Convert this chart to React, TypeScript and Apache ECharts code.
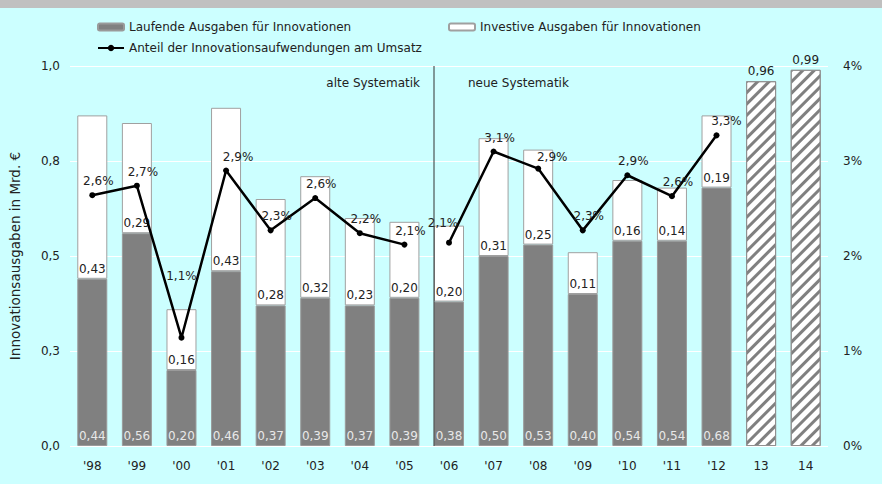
import React, { useEffect, useRef } from "react";
import * as echarts from "echarts";

const categories = ["'98", "'99", "'00", "'01", "'02", "'03", "'04", "'05", "'06", "'07", "'08", "'09", "'10", "'11", "'12", "13", "14"];
const laufende = [0.44, 0.56, 0.2, 0.46, 0.37, 0.39, 0.37, 0.39, 0.38, 0.5, 0.53, 0.4, 0.54, 0.54, 0.68, null, null];
const investiv = [0.43, 0.29, 0.16, 0.43, 0.28, 0.32, 0.23, 0.2, 0.2, 0.31, 0.25, 0.11, 0.16, 0.14, 0.19, null, null];
const prognose = [null, null, null, null, null, null, null, null, null, null, null, null, null, null, null, 0.96, 0.99];
const anteilAlt = [2.64, 2.74, 1.14, 2.9, 2.27, 2.61, 2.24, 2.12, null, null, null, null, null, null, null, null, null];
const anteilNeu = [null, null, null, null, null, null, null, null, 2.14, 3.1, 2.92, 2.27, 2.85, 2.63, 3.27, null, null];
const leftTicks = { min: 0, max: 1, interval: 0.25 };
const rightTicks = { min: 0, max: 4, interval: 1 };

const nameL = "Laufende Ausgaben für Innovationen";
const nameI = "Investive Ausgaben für Innovationen";
const nameA = "Anteil der Innovationsaufwendungen am Umsatz";
const FONT = "DejaVu Sans";
const FS = 12;

// label nudges (style only) for a few crowded line labels
const labelNudge: Record<string, number[]> = { "'00": [0, -48], "'06": [-6, -6], "'12": [10, 0], "'08": [14, 2], "'01": [12, 0] };

const de = (v: number, d: number) => v.toFixed(d).replace(".", ",");

export default function App() {
  const ref = useRef<HTMLDivElement>(null);
  useEffect(() => {
    const chart = echarts.init(ref.current!, null, { renderer: "svg" });
    const txt = { fontFamily: FONT, fontSize: FS, color: "#222" };
    const lineLabel = {
      show: true,
      position: "top",
      offset: [6, 0],
      ...txt,
      formatter: (p: any) => de(p.value, 1) + "%",
    };
    const lineData = (arr: (number | null)[]) =>
      arr.map((v, i) => {
        const n = labelNudge[categories[i]];
        if (v == null || !n) return v;
        return { value: v, label: { offset: n } };
      });
    const legendCommon = { padding: 0, itemGap: 0, textStyle: txt };
    const option: any = {
      animation: false,
      backgroundColor: "#ccffff",
      textStyle: { fontFamily: FONT },
      grid: { left: 70, right: 54, top: 66, bottom: 38, containLabel: false, outerBoundsMode: "none" },
      legend: [
        { ...legendCommon, data: [nameL], left: 97, top: 21, itemWidth: 26, itemHeight: 7 },
        { ...legendCommon, data: [nameI], left: 448, top: 21, itemWidth: 26, itemHeight: 7 },
        { ...legendCommon, data: [nameA], left: 97, top: 42, itemWidth: 26, itemHeight: 8 },
      ],
      xAxis: {
        type: "category",
        data: categories,
        axisLine: { show: false },
        axisTick: { show: false },
        axisLabel: { ...txt, margin: 14 },
      },
      yAxis: [
        {
          type: "value",
          ...leftTicks,
          name: "Innovationsausgaben in Mrd. €",
          nameLocation: "middle",
          nameGap: 48,
          nameTextStyle: { fontFamily: FONT, fontSize: 13.5, color: "#222" },
          axisLabel: { ...txt, margin: 10, formatter: (v: number) => de(v, 1) },
          splitLine: { lineStyle: { color: "#ffffff", width: 1 } },
          axisLine: { show: false },
          axisTick: { show: false },
        },
        {
          type: "value",
          ...rightTicks,
          axisLabel: { ...txt, margin: 15, formatter: "{value}%" },
          splitLine: { show: false },
          axisLine: { show: false },
          axisTick: { show: false },
        },
      ],
      series: [
        {
          name: nameL,
          type: "bar",
          stack: "a",
          barWidth: 30,
          data: laufende,
          itemStyle: { color: "#808080", borderColor: "#9a9a9a", borderWidth: 1 },
          label: {
            show: true,
            position: "insideBottom",
            distance: 4,
            fontFamily: FONT,
            fontSize: FS,
            color: "#e8e8e8",
            formatter: (p: any) => de(p.value, 2),
          },
        },
        {
          name: nameI,
          type: "bar",
          stack: "a",
          barWidth: 30,
          data: investiv,
          itemStyle: { color: "#ffffff", borderColor: "#a0a0a0", borderWidth: 1 },
          label: {
            show: true,
            position: "insideBottom",
            distance: 4,
            ...txt,
            formatter: (p: any) => de(p.value, 2),
          },
        },
        {
          name: "Prognose",
          type: "bar",
          stack: "a",
          barWidth: 30,
          data: prognose,
          itemStyle: {
            color: "#ffffff",
            borderColor: "#909090",
            borderWidth: 1,
            decal: {
              symbol: "rect",
              symbolSize: 1,
              dashArrayX: [1, 0],
              dashArrayY: [2.5, 4.5],
              rotation: -Math.PI / 4,
              color: "#808080",
            },
          },
          label: {
            show: true,
            position: "top",
            distance: 4,
            ...txt,
            formatter: (p: any) => de(p.value, 2),
          },
        },
        {
          name: nameA,
          type: "line",
          yAxisIndex: 1,
          data: lineData(anteilAlt),
          symbol: "circle",
          symbolSize: 6,
          itemStyle: { color: "#000" },
          lineStyle: { color: "#000", width: 2.5 },
          label: lineLabel,
          z: 5,
        },
        {
          name: nameA,
          type: "line",
          yAxisIndex: 1,
          data: lineData(anteilNeu),
          symbol: "circle",
          symbolSize: 6,
          itemStyle: { color: "#000" },
          lineStyle: { color: "#000", width: 2.5 },
          label: lineLabel,
          z: 5,
        },
      ],
    };
    chart.setOption(option);
    const xDiv = (chart.convertToPixel({ xAxisIndex: 0 }, "'06") as number) - 15;
    const yTop = chart.convertToPixel({ yAxisIndex: 0 }, leftTicks.max) as number;
    const yBot = chart.convertToPixel({ yAxisIndex: 0 }, leftTicks.min) as number;
    chart.setOption({
      graphic: [
        { type: "rect", left: 0, top: 0, shape: { x: 0, y: 0, width: 882, height: 8 }, style: { fill: "#c0c0c0" }, silent: true },
        { type: "line", shape: { x1: xDiv, y1: yTop, x2: xDiv, y2: yBot }, style: { stroke: "#333", lineWidth: 1 }, z: 10 },
        { type: "text", x: xDiv - 14, y: yTop + 17, style: { text: "alte Systematik", align: "right", verticalAlign: "middle", font: `${FS}px "${FONT}"`, fill: "#222" } },
        { type: "text", x: xDiv + 34, y: yTop + 17, style: { text: "neue Systematik", align: "left", verticalAlign: "middle", font: `${FS}px "${FONT}"`, fill: "#222" } },
      ],
    });
    return () => chart.dispose();
  }, []);
  return <div ref={ref} style={{ position: "absolute", left: 0, top: 0, width: 882, height: 484 }} />;
}
